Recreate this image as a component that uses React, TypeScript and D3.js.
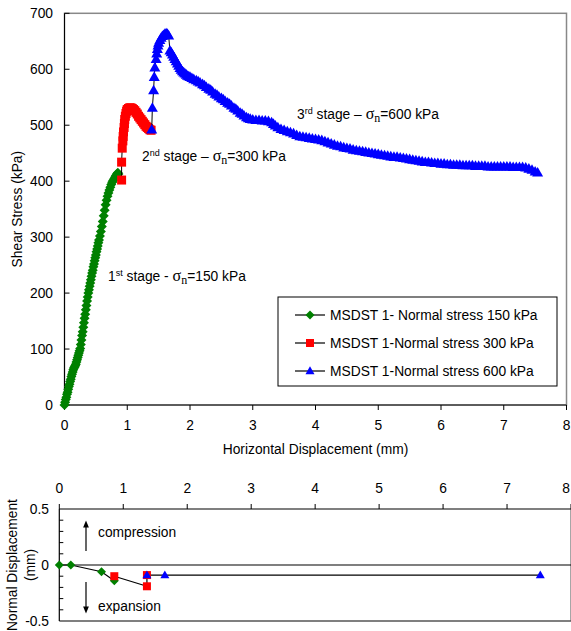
import React from "react";
import * as d3 from "d3";

// ---- Data: shear stress vs horizontal displacement ----
const stage1: [number, number][] = [
  [0.0, 0], [0.01, 5], [0.02, 10], [0.03, 14], [0.04, 19], [0.05, 23], [0.06, 28], [0.07, 33],
  [0.08, 37], [0.09, 42], [0.1, 46], [0.11, 51], [0.12, 55], [0.13, 59], [0.14, 63], [0.15, 66],
  [0.16, 68], [0.17, 70], [0.18, 73], [0.19, 77], [0.2, 81], [0.21, 85], [0.22, 89], [0.23, 93],
  [0.24, 97], [0.25, 101], [0.26, 108], [0.27, 116], [0.28, 124], [0.29, 131], [0.3, 139],
  [0.31, 147], [0.32, 155], [0.33, 162], [0.34, 170], [0.35, 178], [0.36, 186], [0.37, 193],
  [0.38, 200], [0.39, 206], [0.4, 212], [0.41, 218], [0.42, 224], [0.43, 230], [0.44, 236],
  [0.45, 241], [0.46, 247], [0.47, 252], [0.48, 258], [0.49, 263], [0.5, 268], [0.51, 274],
  [0.52, 279], [0.53, 284], [0.54, 290], [0.55, 295], [0.565, 302], [0.58, 310], [0.595, 319],
  [0.61, 328], [0.625, 338], [0.64, 348], [0.655, 358], [0.67, 366], [0.685, 373], [0.7, 379],
  [0.715, 384], [0.73, 389], [0.745, 394], [0.76, 398], [0.775, 401], [0.79, 404], [0.805, 407],
  [0.82, 410], [0.835, 413], [0.85, 415], [0.86, 413],
];

const stage2: [number, number][] = [
  [0.91, 402], [0.91, 434], [0.92, 459], [0.93, 472], [0.935, 480], [0.94, 488], [0.95, 496],
  [0.955, 503], [0.96, 510], [0.97, 516], [0.98, 521], [0.99, 525], [1.0, 528], [1.02, 530],
  [1.04, 531], [1.06, 531], [1.08, 530], [1.1, 528], [1.12, 526], [1.14, 523], [1.16, 520],
  [1.18, 516], [1.2, 513], [1.22, 510], [1.24, 507], [1.26, 504], [1.28, 501], [1.3, 498],
  [1.32, 496], [1.34, 494], [1.36, 492], [1.38, 491],
];

const stage3: [number, number][] = [
  [1.39, 492], [1.4, 531], [1.42, 562], [1.43, 586], [1.44, 603], [1.46, 618], [1.47, 628],
  [1.48, 636], [1.49, 642], [1.5, 647], [1.52, 652], [1.54, 656], [1.56, 659], [1.58, 661],
  [1.6, 663], [1.62, 664], [1.64, 663], [1.66, 660], [1.68, 633], [1.7, 630], [1.72, 626],
  [1.74, 622], [1.76, 618], [1.78, 614], [1.8, 610], [1.82, 606], [1.84, 602], [1.86, 599],
  [1.88, 596], [1.9, 594], [1.92, 592], [1.94, 590], [1.96, 588], [1.98, 587], [2.0, 586],
  [2.03, 584], [2.06, 582], [2.1, 580], [2.13, 578], [2.16, 576], [2.2, 573], [2.23, 571],
  [2.26, 568], [2.3, 565], [2.33, 563], [2.36, 560], [2.4, 556], [2.43, 554], [2.46, 551],
  [2.5, 548], [2.53, 546], [2.56, 543], [2.6, 540], [2.63, 538], [2.66, 535], [2.7, 531],
  [2.73, 529], [2.76, 526], [2.8, 522], [2.83, 520], [2.86, 517], [2.9, 514], [2.93, 512],
  [2.96, 511], [3.0, 510], [3.05, 509], [3.1, 509], [3.15, 508], [3.2, 508], [3.25, 507],
  [3.3, 505], [3.33, 502], [3.36, 499], [3.4, 496], [3.45, 493], [3.5, 491], [3.55, 489],
  [3.6, 487], [3.65, 485], [3.7, 482], [3.75, 480], [3.8, 479], [3.85, 478], [3.9, 477],
  [3.95, 476], [4.0, 475], [4.05, 474], [4.1, 473], [4.15, 471], [4.2, 469], [4.25, 467],
  [4.3, 465], [4.35, 463], [4.4, 462], [4.45, 460], [4.5, 459], [4.55, 458], [4.6, 456],
  [4.65, 455], [4.7, 454], [4.75, 453], [4.8, 452], [4.85, 451], [4.9, 450], [4.95, 449],
  [5.0, 448], [5.05, 447], [5.1, 446], [5.15, 445], [5.2, 444], [5.25, 443], [5.3, 443],
  [5.35, 442], [5.4, 441], [5.45, 440], [5.5, 439], [5.55, 438], [5.6, 437], [5.65, 436],
  [5.7, 435], [5.75, 434], [5.8, 434], [5.85, 433], [5.9, 432], [5.95, 432], [6.0, 431],
  [6.05, 431], [6.1, 430], [6.15, 430], [6.2, 429], [6.25, 429], [6.3, 429], [6.35, 428],
  [6.4, 428], [6.45, 428], [6.5, 428], [6.55, 427], [6.6, 427], [6.65, 427], [6.7, 427],
  [6.75, 426], [6.8, 426], [6.85, 426], [6.9, 426], [6.95, 426], [7.0, 426], [7.05, 426],
  [7.1, 426], [7.15, 425], [7.2, 425], [7.25, 425], [7.3, 425], [7.35, 424], [7.4, 422],
  [7.45, 420], [7.5, 417], [7.54, 415],
];

// ---- Data: normal displacement ----
const nd1: [number, number][] = [[0, 0], [0.18, 0], [0.66, -0.06], [0.86, -0.14]];
const nd2: [number, number][] = [[0.86, -0.1], [1.37, -0.19], [1.37, -0.09]];
const nd3: [number, number][] = [[1.37, -0.09], [1.65, -0.09], [7.52, -0.09]];

const xTicks = [0, 1, 2, 3, 4, 5, 6, 7, 8];
const yTicksTop = [0, 100, 200, 300, 400, 500, 600, 700];
const yTicksBottom = [-0.5, 0, 0.5];
const yMinorBottom = [-0.4, -0.3, -0.2, -0.1, 0.1, 0.2, 0.3, 0.4];

const legendLabels = [
  "MSDST 1- Normal stress 150 kPa",
  "MSDST 1-Normal stress 300 kPa",
  "MSDST 1-Normal stress 600 kPa",
];

const GREEN = "#008000";
const RED = "#ff0000";
const BLUE = "#0000ff";
const FONT = "'Liberation Sans', Arial, sans-serif";
const SERIF = "'Liberation Serif', 'Times New Roman', serif";

type Kind = "diamond" | "square" | "triangle";

function markerPath(kind: Kind, x: number, y: number, s: number): string {
  if (kind === "diamond") {
    const r = s / 2;
    return `M${x},${y - r}L${x + r},${y}L${x},${y + r}L${x - r},${y}Z`;
  }
  if (kind === "square") {
    const r = s / 2;
    return `M${x - r},${y - r}h${s}v${s}h${-s}Z`;
  }
  const h = s * 0.87;
  return `M${x},${y - h * 0.6}L${x + s / 2},${y + h * 0.4}L${x - s / 2},${y + h * 0.4}Z`;
}

export default function App() {
  const W = 571, H = 631;
  const x = d3.scaleLinear().domain([0, 8]).range([64.5, 566.5]);
  const y = d3.scaleLinear().domain([0, 700]).range([405, 13.3]);
  const xb = d3.scaleLinear().domain([0, 8]).range([59.3, 571]);
  const yb = d3.scaleLinear().domain([-0.5, 0.5]).range([621, 509]);

  const lineTop = d3.line<[number, number]>().x((d) => x(d[0])).y((d) => y(d[1]));
  const lineBot = d3.line<[number, number]>().x((d) => xb(d[0])).y((d) => yb(d[1]));

  const topSeries: { data: [number, number][]; kind: Kind; color: string; size: number }[] = [
    { data: stage1, kind: "diamond", color: GREEN, size: 10 },
    { data: stage2, kind: "square", color: RED, size: 9 },
    { data: stage3, kind: "triangle", color: BLUE, size: 11 },
  ];
  const legendSizes = [9, 8, 9];
  const botSeries: { data: [number, number][]; kind: Kind; color: string; size: number }[] = [
    { data: nd1, kind: "diamond", color: GREEN, size: 9 },
    { data: nd2, kind: "square", color: RED, size: 8 },
    { data: nd3, kind: "triangle", color: BLUE, size: 9 },
  ];

  const fs = 13.8;

  const stageLabel = (lx: number, ly: number, num: string, sup: string, dash: string, val: string) => (
    <text x={lx} y={ly} fontFamily={FONT} fontSize={fs} fill="#000">
      {num}
      <tspan fontSize={9} dy={-5}>{sup}</tspan>
      <tspan dy={5}>{` stage ${dash} `}</tspan>
      <tspan fontFamily={SERIF} fontSize={16}>σ</tspan>
      <tspan fontFamily={SERIF} fontSize={12} dy={3}>n</tspan>
      <tspan dy={-3}>{`=${val} kPa`}</tspan>
    </text>
  );

  return (
    <svg width={W} height={H} style={{ position: "absolute", left: 0, top: 0, background: "#fff" }}>
      {/* ===== Top chart ===== */}
      <rect x={x(0)} y={y(700)} width={x(8) - x(0)} height={y(0) - y(700)} fill="none" stroke="#888" strokeWidth={1.5} />
      <line x1={x(0)} x2={x(0)} y1={y(0)} y2={y(700)} stroke="#000" />
      <line x1={x(0)} x2={x(8)} y1={y(0)} y2={y(0)} stroke="#444" strokeWidth={1.5} />
      {xTicks.map((t) => (
        <g key={"xt" + t}>
          <line x1={x(t)} x2={x(t)} y1={y(0)} y2={y(0) + 5} stroke="#000" />
          <text x={x(t)} y={430} textAnchor="middle" fontFamily={FONT} fontSize={fs} fill="#000">{t}</text>
        </g>
      ))}
      {yTicksTop.map((t) => (
        <g key={"yt" + t}>
          <line x1={x(0)} x2={x(0) + 5} y1={y(t)} y2={y(t)} stroke="#000" />
          <text x={53} y={y(t) + 5} textAnchor="end" fontFamily={FONT} fontSize={fs} fill="#000">{t}</text>
        </g>
      ))}
      <text x={(x(0) + x(8)) / 2} y={454} textAnchor="middle" fontFamily={FONT} fontSize={fs} fill="#000">
        Horizontal Displacement (mm)
      </text>
      <text transform={`translate(22,${(y(0) + y(700)) / 2}) rotate(-90)`} textAnchor="middle" fontFamily={FONT} fontSize={fs} fill="#000">
        Shear Stress (kPa)
      </text>

      {topSeries.map((s, i) => (
        <g key={"ts" + i}>
          <path d={lineTop(s.data) || ""} fill="none" stroke="#000" strokeWidth={1} />
          {s.data.map((d, j) => (
            <path key={j} d={markerPath(s.kind, x(d[0]), y(d[1]), s.size)} fill={s.color} />
          ))}
        </g>
      ))}

      {stageLabel(108, 281, "1", "st", "-", "150")}
      {stageLabel(142, 161, "2", "nd", "–", "300")}
      {stageLabel(297, 119, "3", "rd", "– ", "600")}

      {/* Legend */}
      <rect x={278} y={297} width={279} height={89} fill="#fff" stroke="#000" strokeWidth={1} />
      {legendLabels.map((lab, i) => {
        const ly = 315 + i * 28;
        const s = topSeries[i];
        return (
          <g key={"lg" + i}>
            <line x1={295} x2={325} y1={ly} y2={ly} stroke="#000" strokeWidth={1.2} />
            <path d={markerPath(s.kind, 310, ly, legendSizes[i])} fill={s.color} />
            <text x={330} y={ly + 5} fontFamily={FONT} fontSize={fs} fill="#000">{lab}</text>
          </g>
        );
      })}

      {/* ===== Bottom chart ===== */}
      <line x1={xb(8)} x2={xb(8)} y1={yb(0.5)} y2={yb(-0.5)} stroke="#888" strokeWidth={1.5} />
      <line x1={xb(0)} x2={xb(8)} y1={yb(-0.5)} y2={yb(-0.5)} stroke="#555" strokeWidth={1.5} />
      <line x1={xb(0)} x2={xb(8)} y1={yb(0.5)} y2={yb(0.5)} stroke="#000" strokeWidth={1.2} />
      <line x1={xb(0)} x2={xb(0)} y1={yb(0.5)} y2={yb(-0.5)} stroke="#000" strokeWidth={1.2} />
      <line x1={xb(0)} x2={xb(8)} y1={yb(0)} y2={yb(0)} stroke="#000" strokeWidth={1.2} />
      {xTicks.map((t) => (
        <g key={"bxt" + t}>
          <line x1={xb(t)} x2={xb(t)} y1={yb(0.5)} y2={yb(0.5) - 5} stroke="#000" />
          <text x={Math.min(xb(t), 566)} y={493} textAnchor="middle" fontFamily={FONT} fontSize={fs} fill="#000">{t}</text>
        </g>
      ))}
      {yMinorBottom.map((t) => (
        <line key={"bm" + t} x1={xb(0)} x2={xb(0) + 4} y1={yb(t)} y2={yb(t)} stroke="#000" />
      ))}
      {yTicksBottom.map((t) => (
        <text key={"byt" + t} x={49} y={yb(t) + 5} textAnchor="end" fontFamily={FONT} fontSize={fs} fill="#000">{t}</text>
      ))}
      <text transform={`translate(17,${yb(0)}) rotate(-90)`} textAnchor="middle" fontFamily={FONT} fontSize={fs} fill="#000">
        Normal Displacement
      </text>
      <text transform={`translate(35,${yb(0)}) rotate(-90)`} textAnchor="middle" fontFamily={FONT} fontSize={fs} fill="#000">
        (mm)
      </text>

      {botSeries.map((s, i) => (
        <path key={"bl" + i} d={lineBot(s.data) || ""} fill="none" stroke="#000" strokeWidth={1.2} />
      ))}
      {botSeries.map((s, i) => (
        <g key={"bs" + i}>
          {s.data.map((d, j) => (
            <path key={j} d={markerPath(s.kind, xb(d[0]), yb(d[1]), s.size)} fill={s.color} />
          ))}
        </g>
      ))}

      {/* arrows */}
      <defs>
        <marker id="ah" viewBox="0 0 10 10" refX="5" refY="5" markerWidth="6" markerHeight="6" orient="auto-start-reverse">
          <path d="M0,1L10,5L0,9Z" fill="#000" />
        </marker>
      </defs>
      <line x1={86} x2={86} y1={551} y2={524} stroke="#000" strokeWidth={1.2} markerEnd="url(#ah)" />
      <line x1={86} x2={86} y1={582} y2={610} stroke="#000" strokeWidth={1.2} markerEnd="url(#ah)" />
      <text x={98} y={537} fontFamily={FONT} fontSize={fs} fill="#000">compression</text>
      <text x={98} y={611} fontFamily={FONT} fontSize={fs} fill="#000">expansion</text>
    </svg>
  );
}
